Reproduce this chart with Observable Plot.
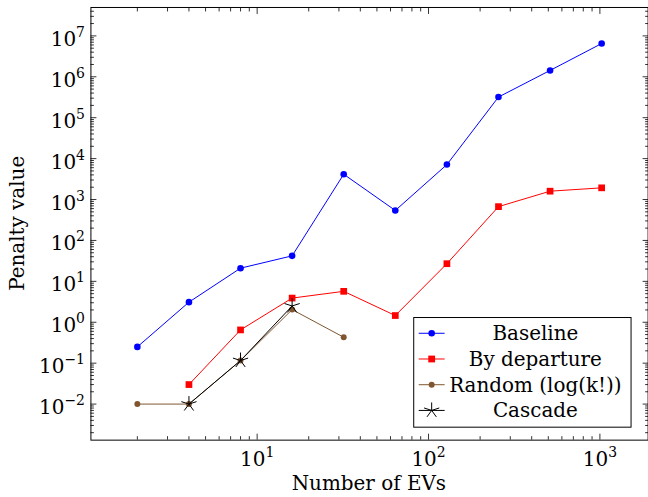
<!DOCTYPE html>
<html><head><meta charset="utf-8">
<script src="https://cdn.jsdelivr.net/npm/d3@7"></script>
<script src="https://cdn.jsdelivr.net/npm/@observablehq/plot@0.6"></script>
<style>
html,body{margin:0;padding:0;background:#fff;overflow:hidden;}
#chart{width:648px;height:497px;overflow:hidden;position:relative;}
#chart svg{display:block;}
#chart svg text{font-family:"DejaVu Serif",serif !important;}
</style></head><body><div id="chart"></div>
<script>
// ---- data ----
const evs = [2, 4, 8, 16, 32, 64, 128, 256, 512, 1024];
const baseline = [0.25, 3.1, 21, 42, 4150, 540, 7150, 3.2e5, 1.43e6, 6.5e6];
const byDeparture = [null, 0.03, 0.65, 3.9, 5.7, 1.46, 27, 670, 1600, 1930];
const randomLogK = [0.01, 0.01, 0.116, 2.04, 0.43];
const cascade = [null, 0.01, 0.116, 2.5];
const seriesNames = ["Baseline", "By departure", "Random (log(k!))", "Cascade"];
const seriesColors = ["#0000ff", "#ff0000", "#7f5630", "#000000"];
const xTickExps = [1, 2, 3];
const yTickExps = [-2, -1, 0, 1, 2, 3, 4, 5, 6, 7];
const xLabel = "Number of EVs";
const yLabel = "Penalty value";

const FONT = '"DejaVu Serif",serif';
const FS = 20;

// ---- table ----
const seriesValues = [baseline, byDeparture, randomLogK, cascade];
const rows = [];
seriesValues.forEach((vals, s) => vals.forEach((v, i) => {
  if (v != null) rows.push({series: seriesNames[s], x: evs[i], y: v});
}));

// pgfplots-like 10% enlargement of log limits
const logExt = arr => { const l = arr.map(Math.log10); return [Math.min(...l), Math.max(...l)]; };
const enlarge = ([a, b]) => { const p = (b - a) * 0.1; return [10 ** (a - p), 10 ** (b + p)]; };
const xDomain = enlarge(logExt(evs));
const yDomain = enlarge(logExt(rows.map(d => d.y)));

const inDom = (v, [a, b]) => v >= a && v <= b;
const minorOf = (dom, k0, k1) => {
  const out = [];
  for (let k = k0; k <= k1; k++) for (let m = 2; m <= 9; m++) { const v = m * 10 ** k; if (inDom(v, dom)) out.push(v); }
  return out;
};
const xMajor = xTickExps.map(e => 10 ** e);
const yMajor = yTickExps.map(e => 10 ** e);
const xMinor = minorOf(xDomain, 0, 3);
const yMinor = minorOf(yDomain, -3, 7);

const starSymbol = {
  draw(context, size) {
    const r = Math.sqrt(size / Math.PI);
    for (let k = 0; k < 5; k++) {
      const a = -Math.PI / 2 + k * 2 * Math.PI / 5;
      context.moveTo(0, 0);
      context.lineTo(r * Math.cos(a), r * Math.sin(a));
    }
  }
};
const symbols = ["circle", "square", "circle", starSymbol];
const radii = [3.3, 3.8, 3, 8];

const tickAxes = [];
for (const anchor of ["bottom", "top"]) {
  tickAxes.push(Plot.axisX(xMinor, {anchor, tickSize: -3.5, fill: "none", tickFormat: () => "", label: null, strokeWidth: 0.8}));
  tickAxes.push(Plot.axisX(xMajor, {anchor, tickSize: -6, fill: "none", tickFormat: () => "", label: null, strokeWidth: 0.8}));
}
for (const anchor of ["left", "right"]) {
  tickAxes.push(Plot.axisY(yMinor, {anchor, tickSize: -3.5, fill: "none", tickFormat: () => "", label: null, strokeWidth: 0.8}));
  tickAxes.push(Plot.axisY(yMajor, {anchor, tickSize: -6, fill: "none", tickFormat: () => "", label: null, strokeWidth: 0.8}));
}

const seriesMarks = [];
seriesNames.forEach((name, s) => {
  const data = rows.filter(d => d.series === name);
  seriesMarks.push(Plot.line(data, {x: "x", y: "y", stroke: "series", strokeWidth: 1}));
  if (s === 3) {
    seriesMarks.push(Plot.dot(data, {x: "x", y: "y", r: radii[s], symbol: symbols[s], stroke: "series", fill: "none", strokeWidth: 1}));
  } else {
    seriesMarks.push(Plot.dot(data, {x: "x", y: "y", r: radii[s], symbol: symbols[s], fill: "series"}));
  }
});

const chart = Plot.plot({
  width: 650, height: 497,
  marginLeft: 90.7, marginRight: 0.4, marginTop: 7, marginBottom: 56,
  style: {fontFamily: FONT, fontSize: FS + "px", background: "white", color: "black"},
  x: {type: "log", domain: xDomain},
  y: {type: "log", domain: yDomain},
  color: {domain: seriesNames, range: seriesColors},
  marks: [
    ...tickAxes,
    Plot.axisX(xMajor, {anchor: "bottom", tickSize: 0, tickPadding: 0, tickFormat: d => "10^" + Math.round(Math.log10(d)), label: null}),
    Plot.axisY(yMajor, {anchor: "left", tickSize: 0, tickPadding: 6, tickFormat: d => "10^" + Math.round(Math.log10(d)), label: null}),
    ...seriesMarks,
    Plot.frame({stroke: "black", strokeWidth: 1})
  ]
});
document.getElementById("chart").appendChild(chart);

const svg = d3.select(chart);
// superscript tick labels
function superscript(sel, yAttr) {
  sel.each(function () {
    const t = this.textContent;
    const m = t.match(/^10\^(-?\d+)$/);
    if (!m) return;
    const e = m[1].replace("-", "\u2212");
    this.textContent = "";
    this.setAttribute("y", yAttr);
    const ns = "http://www.w3.org/2000/svg";
    const a = document.createElementNS(ns, "tspan"); a.textContent = "10"; this.appendChild(a);
    const b = document.createElementNS(ns, "tspan"); b.textContent = e;
    b.setAttribute("dy", "-9"); b.setAttribute("font-size", "14px"); this.appendChild(b);
  });
}
superscript(svg.selectAll('g[aria-label="x-axis tick label"] text'), "26");
superscript(svg.selectAll('g[aria-label="y-axis tick label"] text'), "10");

// axis titles
svg.append("text").attr("x", 370).attr("y", 491.5).attr("text-anchor", "middle")
  .attr("font-family", FONT).attr("font-size", FS).attr("fill", "black").text(xLabel);
svg.append("text").attr("transform", "translate(24,224) rotate(-90)").attr("text-anchor", "middle")
  .attr("font-family", FONT).attr("font-size", FS).attr("fill", "black").text(yLabel);

// legend
const lg = svg.append("g");
lg.append("rect").attr("x", 415).attr("y", 318.5).attr("width", 218).attr("height", 110)
  .attr("fill", "white").attr("stroke", "black").attr("stroke-width", 1);
seriesNames.forEach((name, s) => {
  const cy = 334.3 + s * 25.8;
  const col = seriesColors[s];
  lg.append("line").attr("x1", 420).attr("x2", 446).attr("y1", cy).attr("y2", cy).attr("stroke", col).attr("stroke-width", 1);
  if (s === 1) {
    lg.append("rect").attr("x", 433 - 3.4).attr("y", cy - 3.4).attr("width", 6.8).attr("height", 6.8).attr("fill", col);
  } else if (s === 3) {
    const p = d3.path(); starSymbol.draw(p, Math.PI * radii[3] * radii[3]);
    lg.append("path").attr("transform", `translate(433,${cy})`).attr("d", p.toString()).attr("stroke", col).attr("fill", "none");
  } else {
    lg.append("circle").attr("cx", 433).attr("cy", cy).attr("r", radii[s]).attr("fill", col);
  }
  lg.append("text").attr("x", 537).attr("y", cy + 7).attr("text-anchor", "middle")
    .attr("font-family", FONT).attr("font-size", FS).attr("fill", "black").text(name);
});
</script></body></html>
